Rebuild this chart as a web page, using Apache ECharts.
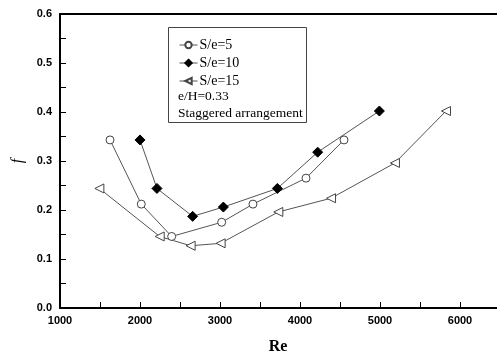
<!DOCTYPE html>
<html><head><meta charset="utf-8">
<script src="https://cdn.jsdelivr.net/npm/echarts@6/dist/echarts.min.js"></script>
<style>html,body{margin:0;padding:0;background:#fff}#c{width:497px;height:354px}</style>
</head><body><div id="c"></div>
<script>
const seriesNames = ['S/e=5', 'S/e=10', 'S/e=15'];
const re5  = [1625, 2016, 2396, 3021, 3412, 4075, 4550];
const f5   = [0.343, 0.212, 0.146, 0.175, 0.212, 0.265, 0.343];
const re10 = [2000, 2212, 2658, 3042, 3717, 4221, 4992];
const f10  = [0.343, 0.244, 0.187, 0.206, 0.244, 0.318, 0.402];
const re15 = [1492, 2246, 2633, 3008, 3729, 4388, 5187, 5825];
const f15  = [0.244, 0.146, 0.127, 0.132, 0.196, 0.224, 0.296, 0.402];
const noteLines = ['e/H=0.33', 'Staggered arrangement'];

const pair = (xs, ys) => xs.map((x, i) => [x, ys[i]]);
const lineStyle = {color: '#555', width: 1};
const chart = echarts.init(document.getElementById('c'), null, {renderer: 'canvas'});
chart.setOption({
  animation: false,
  backgroundColor: '#fff',
  grid: {left: 60, top: 14, width: 440, height: 294, show: false, containLabel: false, outerBoundsMode: 'none'},
  xAxis: [{
    type: 'value', min: 1000, max: 6500, interval: 1000,
    name: 'Re', nameLocation: 'middle', nameGap: 31,
    nameTextStyle: {fontFamily: 'Liberation Serif', fontWeight: 'bold', fontSize: 16, color: '#000', padding: [0, 0, 0, -4]},
    axisLine: {lineStyle: {color: '#000', width: 2}},
    axisTick: {inside: true, length: 6, lineStyle: {color: '#000', width: 1}},
    minorTick: {show: true, splitNumber: 2, length: 6, lineStyle: {color: '#000', width: 1}},
    axisLabel: {showMaxLabel: false, margin: 7, fontFamily: 'Liberation Sans', fontWeight: 'bold', fontSize: 11, color: '#000', formatter: v => String(v)},
    splitLine: {show: false}
  }, {
    type: 'value', position: 'top', min: 1000, max: 6500,
    axisLine: {show: true, lineStyle: {color: '#000', width: 2}},
    axisTick: {show: false}, axisLabel: {show: false}, splitLine: {show: false}
  }],
  yAxis: {
    type: 'value', min: 0, max: 0.6, interval: 0.1,
    name: 'f', nameLocation: 'middle', nameGap: 30, nameRotate: 90,
    nameTextStyle: {fontFamily: 'Liberation Serif', fontStyle: 'italic', fontSize: 16, color: '#000'},
    axisLine: {lineStyle: {color: '#000', width: 2}},
    axisTick: {inside: true, length: 6, lineStyle: {color: '#000', width: 1}},
    minorTick: {show: true, splitNumber: 2, length: 6, lineStyle: {color: '#000', width: 1}},
    axisLabel: {margin: 8, fontFamily: 'Liberation Sans', fontWeight: 'bold', fontSize: 11, color: '#000', formatter: v => v.toFixed(1)},
    splitLine: {show: false}
  },
  legend: {
    left: 174, top: 33, orient: 'vertical', itemGap: 4, itemWidth: 18, itemHeight: 8,
    lineStyle: {width: 1},
    textStyle: {fontFamily: 'Liberation Serif', fontSize: 14, color: '#000', padding: [0, 0, 0, -3]},
    data: seriesNames
  },
  graphic: [
    {type: 'rect', shape: {x: 168.5, y: 27.5, width: 138, height: 95}, style: {fill: 'none', stroke: '#444', lineWidth: 1}, z: 0},
    {type: 'text', left: 178, top: 89, style: {text: noteLines[0], font: '13.5px "Liberation Serif"', fill: '#000'}},
    {type: 'text', left: 178, top: 106, style: {text: noteLines[1], font: '13.5px "Liberation Serif"', fill: '#000'}}
  ],
  series: [
    {name: seriesNames[0], type: 'line', data: pair(re5, f5), symbol: 'circle', symbolSize: 8,
     lineStyle, itemStyle: {color: '#fff', borderColor: '#444', borderWidth: 1}},
    {name: seriesNames[1], type: 'line', data: pair(re10, f10), symbol: 'diamond', symbolSize: 10,
     lineStyle, itemStyle: {color: '#000', borderColor: '#000', borderWidth: 1}},
    {name: seriesNames[2], type: 'line', data: pair(re15, f15), symbol: 'triangle', symbolSize: 9, symbolRotate: 90,
     lineStyle, itemStyle: {color: '#fff', borderColor: '#444', borderWidth: 1}}
  ]
});
</script></body></html>
